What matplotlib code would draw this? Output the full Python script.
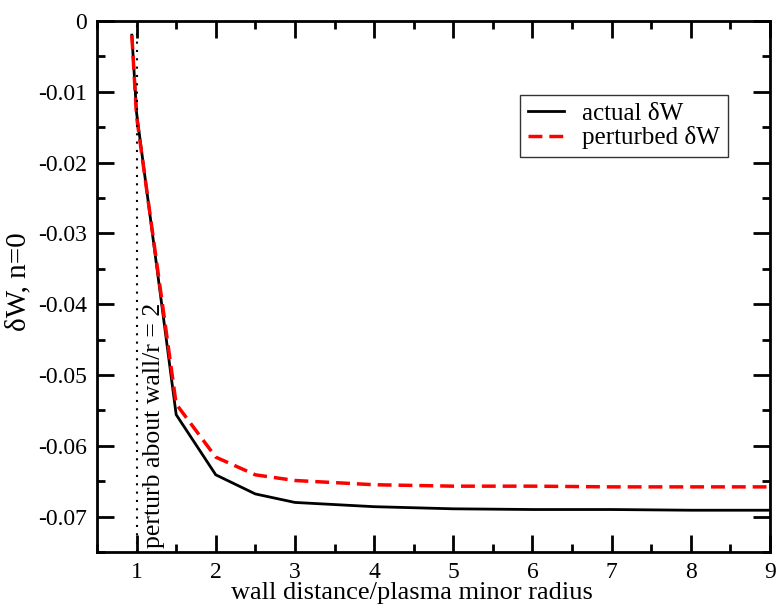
import matplotlib
matplotlib.use('Agg')
import matplotlib.pyplot as plt
from matplotlib.ticker import MultipleLocator

plt.rcParams['font.family'] = ['Liberation Serif', 'DejaVu Serif']

# wall distance / plasma minor radius
wall = [0.94, 1.0, 1.5, 2.0, 2.5, 3.0, 4.0, 5.0, 6.0, 7.0, 8.0, 9.0]
# delta W values
actual_dw = [-0.0020, -0.0130, -0.0556, -0.0641, -0.0668, -0.0680, -0.0686,
             -0.0689, -0.0690, -0.0690, -0.0691, -0.0691]
perturbed_dw = [-0.0020, -0.0135, -0.0541, -0.0616, -0.0641, -0.0649, -0.0655,
                -0.0657, -0.0657, -0.0658, -0.0658, -0.0658]
xticks = [1, 2, 3, 4, 5, 6, 7, 8, 9]
yticks = [-0.07, -0.06, -0.05, -0.04, -0.03, -0.02, -0.01, 0]
ylabels = ['-0.07', '-0.06', '-0.05', '-0.04', '-0.03', '-0.02', '-0.01', '0']

fig = plt.figure(figsize=(7.76, 6.07), dpi=100)
ax = fig.add_axes([97 / 776, 1 - 552 / 607, (770 - 97) / 776, (552 - 21) / 607])

ax.plot(wall, actual_dw, color='black', lw=2, label='actual δW')
ax.plot(wall, perturbed_dw, color='red', lw=2.5, dashes=(4, 2), label='perturbed δW')
ax.axvline(1.0, color='black', lw=1.5, linestyle=(0, (1, 3)))
ax.text(1.22, -0.0745, 'perturb about wall/r = 2', rotation=90, fontsize=18.5,
        ha='center', va='bottom')

ax.set_xlim(0.5, 9)
ax.set_ylim(-0.075, 0)
ax.xaxis.set_minor_locator(MultipleLocator(0.5))
ax.yaxis.set_minor_locator(MultipleLocator(0.005))
ax.set_xticks(xticks)
ax.set_xticklabels([str(t) for t in xticks])
ax.set_yticks(yticks)
ax.set_yticklabels(ylabels)

ax.tick_params(which='both', direction='in', top=True, right=True, labelsize=17, width=2)
ax.tick_params(which='major', length=12, pad=7)
ax.tick_params(which='minor', length=6)
for s in ax.spines.values():
    s.set_linewidth(2)

ax.set_xlabel('wall distance/plasma minor radius', fontsize=19)
ax.xaxis.set_label_coords((412 - 97) / 673, -0.057)
ax.set_ylabel('δW, n=0', fontsize=21)
ax.yaxis.set_label_coords(-0.098, 0.51)

leg = fig.legend(loc='upper left', bbox_to_anchor=(520 / 776, 1 - 95 / 607),
                 borderaxespad=0, fontsize=18, frameon=True, fancybox=False,
                 edgecolor='black', handlelength=1.45, borderpad=0.3,
                 labelspacing=0.05, handletextpad=0.75)
leg.get_frame().set_linewidth(1)

fig.savefig('out.png', dpi=100)
